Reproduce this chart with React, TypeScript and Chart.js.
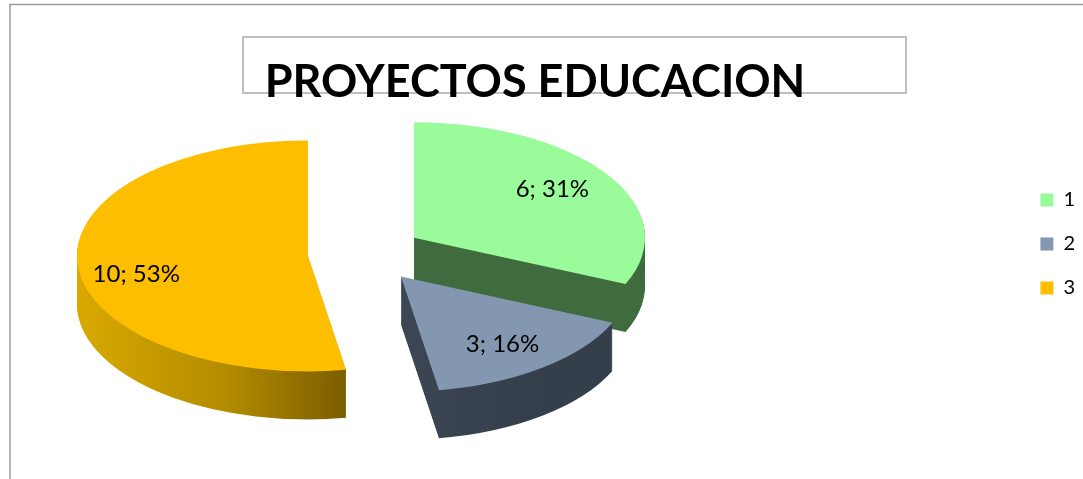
import React, { useEffect, useRef } from "react";
import { Chart, registerables } from "chart.js";

Chart.register(...registerables);

const titleText = "PROYECTOS EDUCACION";
const categories = ["1", "2", "3"];
const values = [6, 3, 10];
const percentLabels = ["31%", "16%", "53%"];
const topColors = ["#99FB99", "#8497B0", "#FDBE00"];
const sideColorsStart = ["#3F6B3F", "#3C4654", "#D9A900"];
const sideColorsMid = ["#3F6B3F", "#36404C", "#B38C00"];
const sideColorsEnd = ["#3F6B3F", "#343E4A", "#7A5C00"];

const FONT = "Lato, Carlito, 'Open Sans', sans-serif";
const SQUASH = 0.5;
const DEPTH = 48;
const EXPLODE = 58;
const RADIUS = 231;
const CX = 365.5;
const CY = 253.5;
const LABEL_R = 170;
const labelNudge = [[-4, -2], [-3, 1], [-2, 11]];
const drawOrder = [2, 0, 1];

const pie3d = {
  id: "pie3d",
  beforeDraw(chart: any) {
    const ctx = chart.ctx;
    ctx.save();
    ctx.fillStyle = "#FFFFFF";
    ctx.fillRect(0, 0, chart.width, chart.height);
    ctx.strokeStyle = "#9A9A9A";
    ctx.lineWidth = 1.5;
    ctx.beginPath();
    ctx.moveTo(10, chart.height);
    ctx.lineTo(10, 4.5);
    ctx.lineTo(chart.width, 4.5);
    ctx.stroke();
    ctx.strokeStyle = "#BFBFBF";
    ctx.lineWidth = 2;
    ctx.strokeRect(243, 37, 663, 56);
    ctx.restore();
  },
  afterLayout(chart: any) {
    const t = chart.titleBlock;
    t.left = 243;
    t.right = 827;
    t.top = 55;
    t.bottom = 115;
  },
  beforeDatasetDraw(chart: any, args: any) {
    const ctx = chart.ctx;
    const arcs = chart.getDatasetMeta(args.index).data;
    for (const i of drawOrder) {
      const arc = arcs[i];
      const mid = (arc.startAngle + arc.endAngle) / 2;
      const ox = Math.round(CX + Math.cos(mid) * EXPLODE);
      const oy = CY + Math.sin(mid) * EXPLODE * SQUASH;
      const base = arc.options;
      const grad = ctx.createLinearGradient(
        i === 2 ? arc.x - RADIUS : arc.x,
        0,
        i === 2 ? arc.x + 40 : arc.x + 215,
        0
      );
      grad.addColorStop(0, sideColorsStart[i]);
      grad.addColorStop(0.55, sideColorsMid[i]);
      grad.addColorStop(1, sideColorsEnd[i]);
      for (let k = DEPTH; k >= 0; k--) {
        ctx.save();
        ctx.translate(ox, oy + k);
        ctx.scale(1, SQUASH);
        ctx.translate(-arc.x, -arc.y);
        arc.options = Object.assign({}, base, {
          backgroundColor: k === 0 ? topColors[i] : grad,
          borderWidth: 0,
        });
        arc.draw(ctx);
        ctx.restore();
      }
      arc.options = base;
    }
    return false;
  },
  afterDatasetsDraw(chart: any) {
    const ctx = chart.ctx;
    const arcs = chart.getDatasetMeta(0).data;
    ctx.save();
    ctx.fillStyle = "#000000";
    ctx.font = `24px ${FONT}`;
    ctx.textAlign = "center";
    ctx.textBaseline = "middle";
    arcs.forEach((arc: any, i: number) => {
      const mid = (arc.startAngle + arc.endAngle) / 2;
      const x = CX + Math.cos(mid) * (EXPLODE + LABEL_R) + labelNudge[i][0];
      const y = CY + Math.sin(mid) * (EXPLODE + LABEL_R) * SQUASH + labelNudge[i][1];
      ctx.fillText(`${values[i]}; ${percentLabels[i]}`, x, y);
    });
    ctx.restore();
  },
};

export default function App() {
  const ref = useRef<HTMLCanvasElement>(null);
  useEffect(() => {
    document.body.style.margin = "0";
    const chart = new Chart(ref.current as HTMLCanvasElement, {
      type: "pie",
      data: {
        labels: categories,
        datasets: [
          {
            data: values,
            backgroundColor: topColors,
            borderWidth: 0,
            radius: RADIUS,
            hoverOffset: 0,
          } as any,
        ],
      },
      options: {
        responsive: false,
        animation: false,
        layout: { padding: { right: -2, top: 9, bottom: 0 } },
        plugins: {
          tooltip: { enabled: false },
          title: {
            display: true,
            text: titleText,
            color: "#000000",
            font: { family: FONT, size: 45, weight: "bold" },
            padding: 0,
          },
          legend: {
            display: true,
            position: "right",
            labels: {
              boxWidth: 13,
              boxHeight: 13,
              padding: 24,
              color: "#000000",
              font: { family: FONT, size: 20 },
            },
          },
        },
      },
      plugins: [pie3d],
    } as any);
    return () => chart.destroy();
  }, []);
  return <canvas ref={ref} width={1083} height={479} style={{ display: "block", width: 1083, height: 479 }} />;
}
